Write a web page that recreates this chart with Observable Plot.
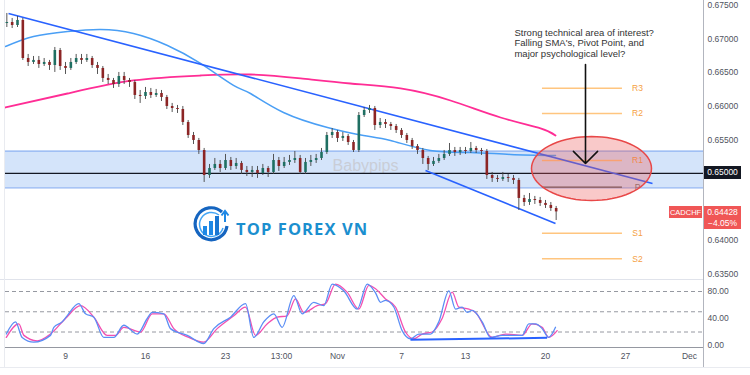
<!DOCTYPE html>
<html><head><meta charset="utf-8">
<script src="https://cdn.jsdelivr.net/npm/d3@7"></script>
<script src="https://cdn.jsdelivr.net/npm/@observablehq/plot@0.6"></script>
<style>
body{margin:0;background:#fff;font-family:"Liberation Sans",Arial,sans-serif;}
#wrap{position:relative;width:750px;height:375px;overflow:hidden;background:#fff}
.abs{position:absolute}
.tag{position:absolute;color:#fff;font:8.5px "Liberation Sans",Arial,sans-serif;text-align:center;box-sizing:border-box}
</style></head><body>
<div id="wrap"></div>
<script>
// ---------- DATA ----------
const symbol = "CADCHF";
const lastPrice = 0.64428;
const changeText = "\u22124.05%";
const startDay = -11/3;            // first candle, in trading days from Oct 9
const firstOpen = 0.67232;
const closes = [
0.67247,0.67202,0.67277,0.66711,0.66652,0.66682,0.66622,0.66652,0.66607,0.66830,
0.66592,0.66563,0.66652,0.66711,0.66682,0.66711,0.66607,0.66563,0.66414,0.66384,
0.66324,0.66443,0.66384,0.66354,0.66161,0.66146,0.66205,0.66161,0.66190,0.66131,
0.65997,0.65967,0.65952,0.65759,0.65565,0.65491,0.65342,0.64970,0.65074,0.65134,
0.65074,0.65193,0.65104,0.65149,0.65045,0.65015,0.65045,0.65000,0.65074,0.65015,
0.65193,0.65104,0.65164,0.65193,0.65223,0.65015,0.65164,0.65193,0.65223,0.65312,
0.65565,0.65610,0.65521,0.65551,0.65461,0.65342,0.65863,0.65937,0.65967,0.65714,
0.65759,0.65729,0.65699,0.65640,0.65565,0.65491,0.65402,0.65342,0.65223,0.65134,
0.65179,0.65223,0.65283,0.65342,0.65312,0.65342,0.65327,0.65372,0.65342,0.65327,
0.64970,0.64926,0.64911,0.64940,0.64926,0.64896,0.64628,0.64568,0.64613,0.64598,
0.64554,0.64524,0.64479,0.64428];
const highs = [
0.67381,0.67307,0.67336,0.67307,0.66771,0.66741,0.66741,0.66711,0.66682,0.66875,
0.66860,0.66652,0.66711,0.66771,0.66771,0.66771,0.66741,0.66652,0.66592,0.66473,
0.66414,0.66503,0.66503,0.66414,0.66384,0.66235,0.66280,0.66265,0.66250,0.66235,
0.66161,0.66042,0.66012,0.65997,0.65788,0.65610,0.65521,0.65372,0.65134,0.65223,
0.65193,0.65283,0.65238,0.65223,0.65179,0.65104,0.65104,0.65104,0.65134,0.65104,
0.65283,0.65238,0.65238,0.65268,0.65327,0.65268,0.65223,0.65268,0.65283,0.65372,
0.65610,0.65669,0.65640,0.65610,0.65580,0.65491,0.65907,0.65982,0.66012,0.65997,
0.65818,0.65803,0.65759,0.65729,0.65669,0.65595,0.65521,0.65431,0.65372,0.65253,
0.65238,0.65283,0.65342,0.65446,0.65387,0.65387,0.65387,0.65461,0.65402,0.65372,
0.65357,0.65015,0.64970,0.65015,0.64985,0.64970,0.64926,0.64673,0.64702,0.64658,
0.64643,0.64598,0.64568,0.64509];
const lows = [
0.67172,0.67157,0.67172,0.66682,0.66592,0.66622,0.66563,0.66592,0.66533,0.66503,
0.66533,0.66473,0.66533,0.66622,0.66622,0.66652,0.66563,0.66473,0.66354,0.66324,
0.66265,0.66280,0.66324,0.66280,0.66101,0.66042,0.66101,0.66116,0.66131,0.66071,
0.65952,0.65907,0.65893,0.65714,0.65521,0.65431,0.65283,0.64866,0.64926,0.65045,
0.65015,0.65045,0.65045,0.65060,0.64985,0.64955,0.64940,0.64926,0.64970,0.64940,
0.64985,0.65030,0.65074,0.65119,0.65149,0.64985,0.64985,0.65104,0.65149,0.65193,
0.65283,0.65521,0.65461,0.65476,0.65417,0.65312,0.65312,0.65833,0.65893,0.65640,
0.65669,0.65669,0.65640,0.65595,0.65521,0.65446,0.65357,0.65283,0.65134,0.65045,
0.65104,0.65149,0.65193,0.65253,0.65253,0.65268,0.65283,0.65297,0.65297,0.65268,
0.64911,0.64866,0.64866,0.64881,0.64866,0.64836,0.64449,0.64509,0.64524,0.64539,
0.64509,0.64479,0.64435,0.64300];

// SMA curves (day, price)
const smaBlueDays   = [-3.75,-2,0.125,2.19,4.25,6.375,8.44,10.5,11.56,13.625,16.375,18.625,20.31,22.81,25.31,27.81,30.625];
const smaBluePrices = [0.66890,0.67039,0.67113,0.67143,0.67083,0.66905,0.66637,0.66310,0.66190,0.65908,0.65685,0.65565,0.65491,0.65342,0.65312,0.65283,0.65268];
const smaPinkDays   = [-3.75,0.125,4.25,8.44,11.56,14.69,17.81,20.94,24.06,27.19,29.69,30.625];
const smaPinkPrices = [0.65982,0.66190,0.66384,0.66458,0.66473,0.66414,0.66339,0.66265,0.66086,0.65833,0.65670,0.65565];

// trend / channel lines
const trendLines = [
  {x1:-3.5625, y1:0.67381, x2:36.6875, y2:0.64851},
  {x1:22.5,    y1:0.65045, x2:30.625,  y2:0.64256}
];
// zone & key level
const zoneLow = 0.64787, zoneHigh = 0.65332;
const keyLevel = 0.65;
// pivot levels
const pivotNames  = ["R3","R2","R1","P","S1","S2"];
const pivotValues = [0.66269,0.65893,0.65193,0.64796,0.64111,0.63730];
const pivotFrom = 29.81, pivotTo = 34.81, pivotLabelDay = 35.75;
// annotation
const noteText = "Strong technical area of interest?\nFalling SMA's, Pivot Point, and\nmajor psychological level?";
const noteDay = 28.06, notePrice = 0.67158;
const arrowSpec = [{x1:32.5, y1:0.66622, x2:32.5, y2:0.65149}];
const ellipseSpec = {cx:32.875, cy:0.65074, rx:3.75, ry:0.00476};
const watermark = {text:"Babypips", day:18.75, price:0.65119};

// axes
const priceTicks = [0.675,0.67,0.665,0.66,0.655,0.65,0.64,0.635];
const xTickDays   = [0,5,10,13.5,17,21,25,30,35,39];
const xTickLabels = ["9","16","23","13:00","Nov","7","13","20","27","Dec"];
const stochTicks = [0,40,80];
const stochLevels = [80,50,20];

// stochastic
const stochKDays = [-3.7,-3.125,-2.71,-1.98,-0.94,-0.73,-0.21,0.10,0.83,1.25,1.77,2.39,3.02,3.64,4.48,5.11,5.42,6.14,6.56,7.61,8.64,9.27,10.31,11.25,11.77,12.39,13.02,13.54,14.27,14.79,15.52,16.14,16.67,17.39,18.23,18.86,19.375,19.69,20.0,20.52,21.04,21.56,22.08,22.81,23.33,23.96,24.375,24.79,25.1,25.42,26.04,26.56,27.29,28.125,28.54,28.96,29.375,29.79,30.2,30.625];
const stochKVals = [17,35,12,5,15,27,35,44,62,47,42,12,12,30,17,40,49,47,25,15,3,25,42,62,12,35,47,27,74,47,64,59,91,81,54,91,78,64,67,57,22,10,17,17,35,81,54,57,49,52,35,12,15,15,15,32,32,25,12,27];
const stochDDays = [-3.7,-2.92,-2.6,-1.77,-0.94,0,0.94,1.77,2.6,3.125,3.64,4.69,5.42,6.14,6.77,7.71,8.64,9.48,10.52,11.25,11.875,12.6,13.23,13.85,14.375,14.9,15.73,16.25,16.875,17.6,18.33,18.96,19.375,20.0,20.625,21.25,21.77,22.29,22.92,23.54,24.17,24.58,25.21,25.625,26.67,27.5,28.54,29.17,29.79,30.2,30.73];
const stochDVals = [12,32,15,7,17,40,59,42,15,15,27,20,47,47,25,12,5,25,44,57,15,32,42,44,69,49,59,62,91,79,54,89,84,69,57,20,10,17,20,40,79,57,54,49,12,17,15,32,27,12,22];
const stochDivergence = [{x1:21.56, y1:8.4, x2:30.1, y2:11.4}];

// ---------- BUILD ----------
const xDomain = [-3.75, 39.875];
const candles = closes.map((c,i)=>({t:startDay+i/3, o:i?closes[i-1]:firstOpen, h:highs[i], l:lows[i], c}));
const smaBlue = smaBlueDays.map((d,i)=>({d, p:smaBluePrices[i]}));
const smaPink = smaPinkDays.map((d,i)=>({d, p:smaPinkPrices[i]}));
const pivots = pivotNames.map((n,i)=>({n, v:pivotValues[i]}));
const ellipse = d3.range(0,73).map(k=>{const a=2*Math.PI*k/72;return {x:ellipseSpec.cx+ellipseSpec.rx*Math.cos(a), y:ellipseSpec.cy+ellipseSpec.ry*Math.sin(a)};});
const stochK = stochKDays.map((d,i)=>({d, v:stochKVals[i]}));
const stochD = stochDDays.map((d,i)=>({d, v:stochDVals[i]}));
const labelMap = new Map(xTickDays.map((d,i)=>[d, xTickLabels[i]]));

const baseStyle = {fontFamily:'"Liberation Sans",Arial,sans-serif', fontSize:"8.5px", color:"#50535e", background:"transparent", overflow:"visible"};

const price = Plot.plot({
  width:750, height:279, marginLeft:5, marginRight:47, marginTop:0, marginBottom:0,
  x:{domain:xDomain, axis:null},
  y:{domain:[0.63422,0.67574]},
  style: baseStyle,
  marks:[
    Plot.rect([{lo:zoneLow, hi:zoneHigh}], {y1:"lo", y2:"hi", fill:"#d4e4fa"}),
    Plot.ruleY([zoneLow, zoneHigh], {stroke:"#8fb3f2", strokeWidth:1.3}),
    Plot.text([watermark], {x:"day", y:"price", text:"text", fill:"#c9cdd6", fontSize:16}),
    Plot.ruleY(pivots.filter(p=>p.n!=="P"), {y:"v", x1:pivotFrom, x2:pivotTo, stroke:"#ffc57f", strokeWidth:1.4}),
    Plot.ruleY(pivots.filter(p=>p.n==="P"), {y:"v", x1:pivotFrom, x2:pivotTo, stroke:"#555", strokeWidth:1.2}),
    Plot.text(pivots, {x:()=>pivotLabelDay, y:"v", text:"n", fill:d=>d.n==="P"?"#777":"#f5a043", fontSize:8.5}),
    Plot.line(smaPink, {x:"d", y:"p", stroke:"#ff2d95", strokeWidth:1.8, curve:"natural"}),
    Plot.line(smaBlue, {x:"d", y:"p", stroke:"#4a9ff5", strokeWidth:1.5, curve:"natural"}),
    Plot.ruleY([keyLevel], {stroke:"#131722", strokeWidth:1.3}),
    Plot.link(trendLines, {x1:"x1", y1:"y1", x2:"x2", y2:"y2", stroke:"#2962ff", strokeWidth:1.6}),
    Plot.ruleX(candles, {x:"t", y1:"l", y2:"h", stroke:"#444", strokeWidth:0.9}),
    Plot.ruleX(candles, {x:"t", y1:"o", y2:"c", stroke:d=>d.c>=d.o?"#1f6f62":"#8c2525", strokeWidth:2.6}),
    Plot.line(ellipse, {x:"x", y:"y", fill:"#ec5656", fillOpacity:0.32, stroke:"#e84848", strokeWidth:1.5, curve:"linear"}),
    Plot.arrow(arrowSpec, {x1:"x1", y1:"y1", x2:"x2", y2:"y2", stroke:"#111", strokeWidth:1.6, headLength:16, headAngle:90}),
    Plot.text([noteText], {x:()=>noteDay, y:()=>notePrice, text:d=>d, textAnchor:"start", lineAnchor:"top", lineHeight:1.1, fontSize:9.5, fill:"#333"}),
    Plot.ruleX([xDomain[1]], {stroke:"#b2b5be", strokeWidth:1}),
    Plot.axisY({ticks:priceTicks, anchor:"right", tickSize:0, tickPadding:4, tickFormat:d3.format(".5f"), fontSize:8.5})
  ]
});

const stoch = Plot.plot({
  width:750, height:88, marginLeft:5, marginRight:47, marginTop:0, marginBottom:20,
  x:{domain:xDomain},
  y:{domain:[-2.96, 97.78]},
  style: baseStyle,
  marks:[
    Plot.ruleY(stochLevels, {stroke:"#8a8d96", strokeDasharray:"4,3", strokeWidth:0.9}),
    Plot.line(stochD, {x:"d", y:"v", stroke:"#f34fb0", strokeWidth:1.3, curve:"monotone-x"}),
    Plot.line(stochK, {x:"d", y:"v", stroke:"#5b8ef5", strokeWidth:1.3, curve:"monotone-x"}),
    Plot.link(stochDivergence, {x1:"x1", y1:"y1", x2:"x2", y2:"y2", stroke:"#2962ff", strokeWidth:2}),
    Plot.ruleY([-2.96], {stroke:"#9598a1", strokeWidth:1}),
    Plot.ruleX([xDomain[1]], {stroke:"#b2b5be", strokeWidth:1, y1:-2.96-30, y2:97.78}),
    Plot.axisX({ticks:xTickDays, tickSize:0, tickPadding:5, tickFormat:d=>labelMap.get(d), fontSize:8.5}),
    Plot.axisY({ticks:stochTicks, anchor:"right", tickSize:0, tickPadding:4, tickFormat:d3.format(".2f"), fontSize:8.5})
  ]
});

const wrap = document.getElementById("wrap");
const pDiv = document.createElement("div"); pDiv.className="abs"; pDiv.style.left="0px"; pDiv.style.top="0px"; pDiv.appendChild(price); wrap.appendChild(pDiv);
const sDiv = document.createElement("div"); sDiv.className="abs"; sDiv.style.left="0px"; sDiv.style.top="279px"; sDiv.appendChild(stoch); wrap.appendChild(sDiv);

// frame lines
function line(l,t,w,h,c){const d=document.createElement("div");d.className="abs";Object.assign(d.style,{left:l+"px",top:t+"px",width:w+"px",height:h+"px",background:c});wrap.appendChild(d);}
const ys = price.scale("y"), xs = price.scale("x");
const axisX = xs.apply(xDomain[1]);
line(0,279,axisX,1,"#e0e3eb");
line(4,0,1,367,"#e9ebf0");
line(0,367,750,1,"#e9ebf0");

// key level label box
function tag(text,left,top,w,h,bg,fs){const d=document.createElement("div");d.className="tag";Object.assign(d.style,{left:left+"px",top:top+"px",width:w+"px",height:h+"px",background:bg,fontSize:(fs||8.5)+"px",lineHeight:"11px",paddingTop:"1px",whiteSpace:"nowrap",overflow:"hidden"});d.innerHTML=text;wrap.appendChild(d);}
const yKey = ys.apply(keyLevel);
tag(d3.format(".5f")(keyLevel), axisX+1, yKey-6.5, 37, 13, "#131722");
const yLast = ys.apply(lastPrice);
tag(symbol, axisX-34, yLast-5, 33, 12, "#f05656", 7.5);
tag(d3.format(".5f")(lastPrice)+"<br>"+changeText, axisX+1, yLast-5, 37, 23, "#f05656");

// logo
const logo = document.createElement("div"); logo.className="abs";
logo.style.left="192px"; logo.style.top="204px";
logo.innerHTML = `<svg width="40" height="40" viewBox="0 0 40 40">
<path d="M30 8 A16 16 0 1 0 35 22" fill="none" stroke="#1565c0" stroke-width="3.2"/>
<path d="M27 11 A12 12 0 1 0 31 24" fill="none" stroke="#42a5f5" stroke-width="1.5"/>
<rect x="11" y="22" width="4" height="9" fill="#1e88e5"/><rect x="17" y="17" width="4" height="14" fill="#1e88e5"/><rect x="23" y="12" width="4" height="19" fill="#1976d2"/>
<path d="M33 18 L33 8 M29.5 11.5 L33 7 L36.5 11.5" fill="none" stroke="#1e88e5" stroke-width="2"/></svg>`;
wrap.appendChild(logo);
const logoText = document.createElement("div"); logoText.className="abs";
Object.assign(logoText.style,{left:"236px",top:"217px",font:'bold 16.5px "Open Sans",sans-serif',color:"#1b8fcf",letterSpacing:"1.1px",whiteSpace:"nowrap"});
logoText.textContent="TOP FOREX VN";
wrap.appendChild(logoText);
</script>
</body></html>
